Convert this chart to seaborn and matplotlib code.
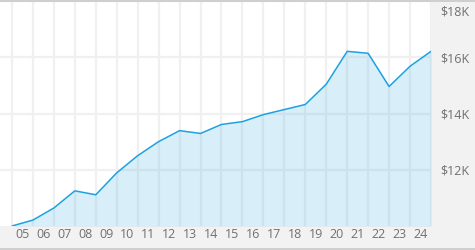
import matplotlib
matplotlib.use("Agg")
import matplotlib.pyplot as plt
import seaborn as sns
import pandas as pd
from matplotlib.lines import Line2D
from matplotlib.transforms import ScaledTranslation

# Data (values in $K), one point per year boundary
point_index = list(range(21))
values_k = [10.0, 10.21, 10.64, 11.25, 11.11, 11.89, 12.5, 13.0, 13.39, 13.29,
            13.61, 13.71, 13.96, 14.14, 14.32, 15.04, 16.21, 16.14, 14.96, 15.68, 16.21]
year_labels = ["05", "06", "07", "08", "09", "10", "11", "12", "13", "14",
               "15", "16", "17", "18", "19", "20", "21", "22", "23", "24"]
y_ticks = [12, 14, 16, 18]
y_tick_labels = ["$12K", "$14K", "$16K", "$18K"]

df = pd.DataFrame({"x": point_index, "v": values_k})

sns.set_style("white")
plt.rcParams["font.family"] = ["Open Sans", "DejaVu Sans"]

W, H = 475, 250
fig = plt.figure(figsize=(W / 100, H / 100), dpi=100, facecolor="#f2f2f2")
ax = fig.add_axes([0, (H - 226) / H, 431 / W, 225 / H])
ax.set_facecolor("white")

line_col = "#1ba1e2"
ax.set_xlim(-12 / 21, 20)
ax.set_ylim(10, 18)

# grid
ax.set_xticks(point_index, minor=True)
ax.set_xticks([i + 0.5 for i in range(len(year_labels))])
ax.set_xticklabels(year_labels)
ax.grid(which="minor", axis="x", color="#f0f0f0", linewidth=1.6, zorder=0)
ax.set_yticks(y_ticks)
ax.set_yticklabels(y_tick_labels)
ax.grid(which="major", axis="y", color="#f0f0f0", linewidth=1.6, zorder=0)
ax.set_axisbelow(True)

ax.fill_between(df["x"], df["v"], 10, color=line_col, alpha=0.17, linewidth=0, zorder=2)
sns.lineplot(data=df, x="x", y="v", ax=ax, color=line_col, linewidth=1.1, zorder=3)

ax.set_xlabel("")
ax.set_ylabel("")
for s in ax.spines.values():
    s.set_visible(False)

ax.yaxis.tick_right()
ax.tick_params(axis="y", which="both", length=0, pad=7, labelsize=9, labelcolor="#707070",
               left=False, right=False)
ax.tick_params(axis="x", which="both", length=0, pad=1.5, labelsize=9, labelcolor="#707070",
               bottom=False)
for t in ax.yaxis.get_major_ticks():
    if abs(t.get_loc() - 18) < 1e-6:
        t.label2.set_transform(t.label2.get_transform()
                               + ScaledTranslation(0, -0.09, fig.dpi_scale_trans))

# figure border lines (top and bottom)
fig.add_artist(Line2D([0, 1], [1 - 0.5 / H, 1 - 0.5 / H], transform=fig.transFigure,
                      color="#c8c8c8", linewidth=1.2))
fig.add_artist(Line2D([0, 1], [1.5 / H, 1.5 / H], transform=fig.transFigure,
                      color="#c8c8c8", linewidth=1.2))

fig.savefig("out.png", dpi=100, facecolor=fig.get_facecolor())
